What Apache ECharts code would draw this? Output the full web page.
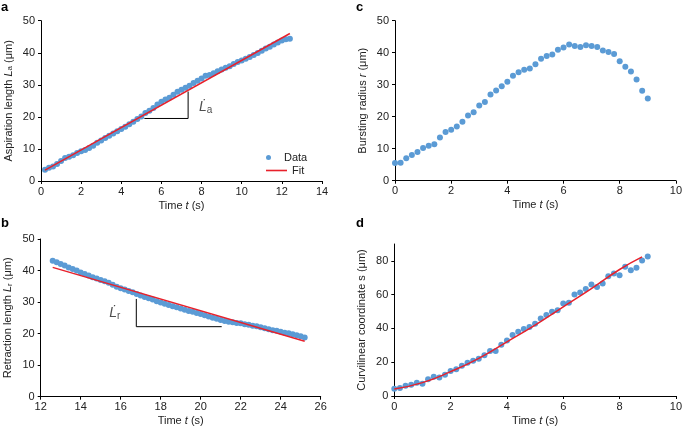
<!DOCTYPE html>
<html><head><meta charset="utf-8">
<script src="https://cdn.jsdelivr.net/npm/echarts@6/dist/echarts.min.js"></script>
<style>html,body{margin:0;padding:0;background:#fff}#c{width:685px;height:430px}</style>
</head><body><div id="c"></div>
<script>
// ---- Panel a: aspiration length ----
const timeA = [0.2,0.4,0.6,0.8,1.0,1.2,1.4,1.6,1.8,2.0,2.2,2.4,2.6,2.8,3.0,3.2,3.4,3.6,3.8,4.0,4.2,4.4,4.6,4.8,5.0,5.2,5.4,5.6,5.8,6.0,6.2,6.4,6.6,6.8,7.0,7.2,7.4,7.6,7.8,8.0,8.2,8.4,8.6,8.8,9.0,9.2,9.4,9.6,9.8,10.0,10.2,10.4,10.6,10.8,11.0,11.2,11.4,11.6,11.8,12.0,12.2,12.4];
const lengthA = [3.5,4.1,4.5,5.3,6.2,7.2,7.6,8.0,8.7,9.3,9.7,10.3,11.0,11.9,12.6,13.4,14.1,14.8,15.5,16.2,16.9,17.7,18.5,19.3,20.1,21.2,21.9,22.8,23.9,24.7,25.4,26.0,26.9,27.8,28.5,29.1,29.7,30.6,31.3,32.0,32.8,33.1,33.6,34.2,34.8,35.3,35.8,36.5,37.1,37.6,38.1,38.7,39.3,39.9,40.6,41.3,41.9,42.6,43.2,43.8,44.2,44.4];
const fitTimeA = [0.2, 12.4];
const fitLengthA = [3.4, 46.0];
const triTimeA = [5.15, 7.33, 7.33];
const triValA = [19.5, 19.5, 27.9];
const slopeLabelA = [8.2, 23.1];

// ---- Panel b: retraction length ----
const timeB = [12.6,12.8,13.0,13.2,13.4,13.6,13.8,14.0,14.2,14.4,14.6,14.8,15.0,15.2,15.4,15.6,15.8,16.0,16.2,16.4,16.6,16.8,17.0,17.2,17.4,17.6,17.8,18.0,18.2,18.4,18.6,18.8,19.0,19.2,19.4,19.6,19.8,20.0,20.2,20.4,20.6,20.8,21.0,21.2,21.4,21.6,21.8,22.0,22.2,22.4,22.6,22.8,23.0,23.2,23.4,23.6,23.8,24.0,24.2,24.4,24.6,24.8,25.0,25.2];
const lengthB = [43.1,42.6,42.1,41.6,41.0,40.5,40.0,39.4,38.9,38.4,37.9,37.5,37.0,36.6,36.1,35.5,34.9,34.4,34.0,33.5,33.1,32.6,32.1,31.6,31.2,30.8,30.3,29.9,29.5,29.1,28.7,28.4,28.0,27.6,27.2,26.9,26.5,26.2,25.8,25.4,25.0,24.7,24.3,24.0,23.8,23.6,23.4,23.3,23.0,22.8,22.5,22.3,22.0,21.7,21.4,21.1,20.9,20.6,20.3,20.1,19.8,19.5,19.2,18.8];
const fitTimeB = [12.6, 25.2];
const fitLengthB = [41.0, 17.6];
const triTimeB = [16.78, 16.78, 21.05];
const triValB = [31.0, 22.2, 22.2];
const slopeLabelB = [15.7, 26.6];

// ---- Panel c: bursting radius ----
const timeC = [0,0.2,0.4,0.6,0.8,1.0,1.2,1.4,1.6,1.8,2.0,2.2,2.4,2.6,2.8,3.0,3.2,3.4,3.6,3.8,4.0,4.2,4.4,4.6,4.8,5.0,5.2,5.4,5.6,5.8,6.0,6.2,6.4,6.6,6.8,7.0,7.2,7.4,7.6,7.8,8.0,8.2,8.4,8.6,8.8,9.0];
const radiusC = [5.5,5.6,7.0,8.0,9.0,10.2,10.9,11.4,13.5,15.2,15.9,16.9,18.4,20.4,21.4,23.5,24.6,26.9,28.2,29.5,30.9,32.8,33.9,34.7,35.1,36.4,38.1,39.0,39.4,40.9,41.6,42.6,42.1,41.8,42.3,42.1,41.8,40.7,40.2,39.6,37.3,35.6,34.1,31.6,28.1,25.7];

// ---- Panel d: curvilinear coordinate ----
const timeD = [0,0.2,0.4,0.6,0.8,1.0,1.2,1.4,1.6,1.8,2.0,2.2,2.4,2.6,2.8,3.0,3.2,3.4,3.6,3.8,4.0,4.2,4.4,4.6,4.8,5.0,5.2,5.4,5.6,5.8,6.0,6.2,6.4,6.6,6.8,7.0,7.2,7.4,7.6,7.8,8.0,8.2,8.4,8.6,8.8,9.0];
const coordD = [4.3,4.7,6.1,6.7,7.9,7.3,9.9,11.4,11.0,12.6,14.8,15.8,17.9,19.7,20.9,22.1,24.2,26.6,26.6,30.3,32.9,36.1,38.0,39.6,40.8,42.8,45.9,47.9,49.9,50.8,54.8,55.2,60.1,61.3,63.3,66.0,64.6,66.6,70.9,72.5,71.5,76.5,74.5,75.9,80.2,82.6];
const fitTimeD = [0,1,2,3,4,5,6,7,8,8.8];
const fitCoordD = [4.1,7.9,14.4,22.3,32.1,42.0,52.8,63.6,74.9,82.4];
const ticksD = [0,20,40,60,80];

const FONT = 'Liberation Sans, Arial, sans-serif';
const DOT = '#5b9bd5';
const RED = '#e8212b';
const TXT = '#222';

const zip = (a, b) => a.map((v, i) => [v, b[i]]);

const richBase = {
  n: {fontSize: 11, fontFamily: FONT, color: TXT},
  i: {fontSize: 11, fontFamily: FONT, color: TXT, fontStyle: 'italic'},
  s: {fontSize: 8, fontFamily: FONT, color: TXT, verticalAlign: 'bottom', lineHeight: 10}
};

function xAx(gi, min, max, name) {
  return {
    gridIndex: gi, type: 'value', min: min, max: max, interval: 2,
    name: name, nameLocation: 'middle', nameGap: 19,
    nameTextStyle: {fontSize: 11, fontFamily: FONT, color: TXT, rich: richBase},
    axisLine: {show: true, onZero: false, lineStyle: {color: '#000', width: 1}},
    axisTick: {show: true, length: 3, lineStyle: {color: '#000'}},
    axisLabel: {fontSize: 11, fontFamily: FONT, color: TXT, margin: 5},
    splitLine: {show: false}
  };
}
function yAx(gi, min, max, interval, name, gap) {
  return {
    gridIndex: gi, type: 'value', min: min, max: max, interval: interval,
    name: name, nameLocation: 'middle', nameGap: gap, nameRotate: 90,
    nameTextStyle: {fontSize: 11, fontFamily: FONT, color: TXT, rich: richBase},
    axisLine: {show: true, onZero: false, lineStyle: {color: '#000', width: 1}},
    axisTick: {show: true, length: 3, lineStyle: {color: '#000'}},
    axisLabel: {fontSize: 11, fontFamily: FONT, color: TXT, margin: 6},
    splitLine: {show: false}
  };
}

const yD = yAx(3, 0, 90, 20, '{n|Curvilinear coordinate s (μm)}', 27);
yD.axisLabel.customValues = ticksD;
yD.axisTick.customValues = ticksD;

const slopeRich = {
  i: {fontSize: 14, fontFamily: FONT, color: TXT, fontStyle: 'italic'},
  s: {fontSize: 10, fontFamily: FONT, color: TXT, verticalAlign: 'bottom', lineHeight: 16}
};

const chart = echarts.init(document.getElementById('c'), null, {renderer: 'canvas'});
chart.setOption({
  animation: false,
  backgroundColor: '#fff',
  textStyle: {fontFamily: FONT},
  grid: [
    {left: 41, top: 20.7, width: 281, height: 160.3},
    {left: 40.7, top: 239, width: 280, height: 157.7},
    {left: 395, top: 20.7, width: 281.7, height: 160},
    {left: 394.3, top: 244, width: 284.7, height: 152}
  ],
  xAxis: [
    xAx(0, 0, 14, '{n|Time }{i|t}{n| (s)}'),
    xAx(1, 12, 26, '{n|Time }{i|t}{n| (s)}'),
    xAx(2, 0, 10, '{n|Time }{i|t}{n| (s)}'),
    xAx(3, 0, 10, '{n|Time }{i|t}{n| (s)}')
  ],
  yAxis: [
    yAx(0, 0, 50, 10, '{n|Aspiration length }{i|L}{s|a}{n| (μm)}', 27),
    yAx(1, 0, 50, 10, '{n|Retraction length }{i|L}{s|r}{n| (μm)}', 27),
    yAx(2, 0, 50, 10, '{n|Bursting radius }{i|r}{n| (μm)}', 27),
    yD
  ],
  legend: [
    {left: 261, top: 147, itemWidth: 21, itemHeight: 5, itemGap: 0,
      textStyle: {fontSize: 11, fontFamily: FONT, color: TXT},
      data: [{name: 'Data', icon: 'circle'}]},
    {left: 261, top: 160, itemWidth: 21, itemHeight: 1.6, itemGap: 0,
      textStyle: {fontSize: 11, fontFamily: FONT, color: TXT},
      data: [{name: 'Fit', icon: 'rect'}]}
  ],
  graphic: [
    {type: 'text', left: 1, top: 1, style: {text: 'a', font: 'bold 13px ' + FONT, fill: '#000'}},
    {type: 'text', left: 1, top: 217, style: {text: 'b', font: 'bold 13px ' + FONT, fill: '#000'}},
    {type: 'text', left: 356, top: 1, style: {text: 'c', font: 'bold 13px ' + FONT, fill: '#000'}},
    {type: 'text', left: 356, top: 217, style: {text: 'd', font: 'bold 13px ' + FONT, fill: '#000'}}
  ],
  series: [
    {name: 'Data', type: 'scatter', xAxisIndex: 0, yAxisIndex: 0, data: zip(timeA, lengthA), symbolSize: 6, itemStyle: {color: DOT, opacity: 1}},
    {name: 'Fit', type: 'line', xAxisIndex: 0, yAxisIndex: 0, data: zip(fitTimeA, fitLengthA), symbol: 'none', lineStyle: {color: RED, width: 1.5}, itemStyle: {color: RED}},
    {type: 'line', xAxisIndex: 0, yAxisIndex: 0, data: zip(triTimeA, triValA), symbol: 'none', lineStyle: {color: '#000', width: 1}},
    {type: 'scatter', xAxisIndex: 0, yAxisIndex: 0, data: [slopeLabelA], symbolSize: 0,
      label: {show: true, position: 'inside', formatter: '{i|L\u0307}{s|a}', rich: slopeRich}},

    {type: 'scatter', xAxisIndex: 1, yAxisIndex: 1, data: zip(timeB, lengthB), symbolSize: 6, itemStyle: {color: DOT, opacity: 1}},
    {type: 'line', xAxisIndex: 1, yAxisIndex: 1, data: zip(fitTimeB, fitLengthB), symbol: 'none', lineStyle: {color: RED, width: 1.5}},
    {type: 'line', xAxisIndex: 1, yAxisIndex: 1, data: zip(triTimeB, triValB), symbol: 'none', lineStyle: {color: '#000', width: 1}},
    {type: 'scatter', xAxisIndex: 1, yAxisIndex: 1, data: [slopeLabelB], symbolSize: 0,
      label: {show: true, position: 'inside', formatter: '{i|L\u0307}{s|r}', rich: slopeRich}},

    {type: 'scatter', xAxisIndex: 2, yAxisIndex: 2, data: zip(timeC, radiusC), symbolSize: 6, itemStyle: {color: DOT, opacity: 1}},

    {type: 'scatter', xAxisIndex: 3, yAxisIndex: 3, data: zip(timeD, coordD), symbolSize: 6, itemStyle: {color: DOT, opacity: 1}},
    {type: 'line', xAxisIndex: 3, yAxisIndex: 3, data: zip(fitTimeD, fitCoordD), smooth: true, symbol: 'none', lineStyle: {color: RED, width: 1.5}}
  ]
});
</script></body></html>
